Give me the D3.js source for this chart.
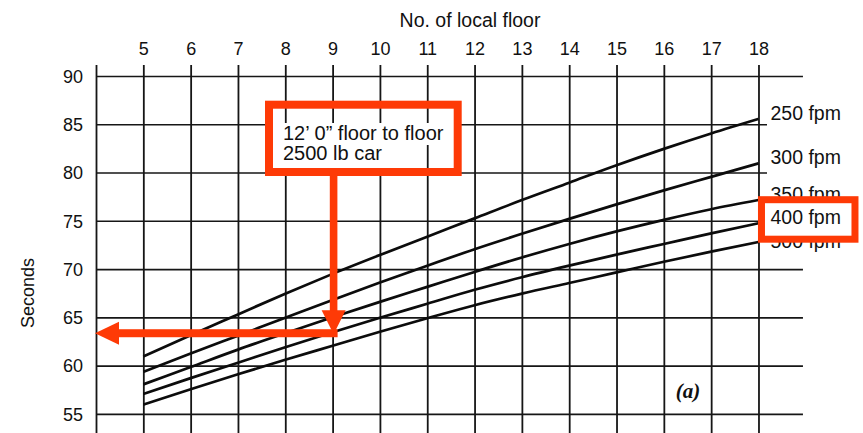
<!DOCTYPE html>
<html>
<head>
<meta charset="utf-8">
<script src="https://cdn.jsdelivr.net/npm/d3@7"></script>
<style>
  html, body { margin: 0; padding: 0; background: #fff; }
  svg { display: block; }
  text { font-family: "Liberation Sans", Arial, sans-serif; fill: #111; }
</style>
</head>
<body>
<svg id="chart" width="863" height="433"></svg>
<script>
// Round-trip time of a local elevator vs. number of local floors served
const floors = [5, 6, 7, 8, 9, 10, 11, 12, 13, 14, 15, 16, 17, 18];
const speeds = ["250 fpm", "300 fpm", "350 fpm", "400 fpm", "500 fpm"];
const s250 = [61.0, 63.2, 65.35, 67.5, 69.55, 71.5, 73.4, 75.3, 77.2, 79.0, 80.8, 82.5, 84.1, 85.6];
const s300 = [59.4, 61.3, 63.15, 65.0, 66.85, 68.65, 70.4, 72.1, 73.7, 75.25, 76.75, 78.2, 79.6, 81.0];
const s350 = [58.1, 59.9, 61.7, 63.4, 65.05, 66.65, 68.2, 69.75, 71.25, 72.65, 73.95, 75.15, 76.25, 77.2];
const s400 = [57.1, 58.75, 60.35, 61.95, 63.5, 65.0, 66.45, 67.9, 69.2, 70.4, 71.55, 72.65, 73.75, 74.8];
const s500 = [56.0, 57.6, 59.15, 60.65, 62.1, 63.55, 64.95, 66.3, 67.5, 68.6, 69.7, 70.8, 71.85, 72.85];
const secondsTicks = [55, 60, 65, 70, 75, 80, 85, 90];
const gridFloors = [4, 5, 6, 7, 8, 9, 10, 11, 12, 13, 14, 15, 16, 17, 18];
const shortGridSeconds = [80, 85];   // stop before the speed labels
const noteLines = ["12\u2019 0\u201D floor to floor", "2500 lb car"];
const highlightSpeed = "400 fpm";
const readFloor = 9;
const readSeconds = 63.4;

const seriesValues = [s250, s300, s350, s400, s500];
const series = speeds.map((name, i) => ({
  name,
  points: floors.map((f, j) => ({ f, v: seriesValues[i][j] }))
}));

const RED = "#fe3a06";
const INK = "#161616";

const svg = d3.select("#chart");
svg.append("rect").attr("width", 863).attr("height", 433).attr("fill", "#fff");

const x = d3.scaleLinear().domain([4, 19]).range([96, 805.8]);
const y = d3.scaleLinear().domain([55, 90]).range([414.3, 76.5]);

// vertical grid (left border + one line per floor)
const vGrid = svg.append("g")
  .attr("transform", "translate(0,65)")
  .call(d3.axisBottom(x).tickValues(gridFloors).tickSize(380).tickFormat(""));
vGrid.select(".domain").remove();
vGrid.selectAll("line").attr("stroke", INK).attr("stroke-width", 1.8);

// horizontal grid
svg.append("g").selectAll("line")
  .data(secondsTicks)
  .join("line")
  .attr("x1", x(4))
  .attr("x2", d => shortGridSeconds.includes(d) ? x(18.18) : x(18.94))
  .attr("y1", d => y(d))
  .attr("y2", d => y(d))
  .attr("stroke", INK)
  .attr("stroke-width", 1.7);

// floor numbers along the top
const topAxis = svg.append("g")
  .attr("transform", "translate(0,58)")
  .call(d3.axisTop(x).tickValues(floors).tickSize(0).tickPadding(3).tickFormat(d3.format("d")));
topAxis.select(".domain").remove();
topAxis.selectAll("text")
  .style("font-family", "'Liberation Sans', Arial, sans-serif")
  .style("font-size", "18px")
  .attr("fill", "#111");

// seconds labels on the left
const leftAxis = svg.append("g")
  .attr("transform", `translate(${x(4)},0)`)
  .call(d3.axisLeft(y).tickValues(secondsTicks).tickSize(0).tickPadding(13).tickFormat(d3.format("d")));
leftAxis.select(".domain").remove();
leftAxis.selectAll("text")
  .style("font-family", "'Liberation Sans', Arial, sans-serif")
  .style("font-size", "18px")
  .attr("fill", "#111");

// axis titles
svg.append("text")
  .attr("x", 470).attr("y", 27)
  .attr("text-anchor", "middle")
  .style("font-size", "19.5px")
  .text("No. of local floor");

svg.append("text")
  .attr("transform", "translate(28,293) rotate(-90)")
  .attr("text-anchor", "middle")
  .attr("dominant-baseline", "central")
  .style("font-size", "18px")
  .text("Seconds");

// curves
const line = d3.line()
  .x(d => x(d.f))
  .y(d => y(d.v))
  .curve(d3.curveMonotoneX);

svg.append("g").selectAll("path")
  .data(series)
  .join("path")
  .attr("d", d => line(d.points))
  .attr("fill", "none")
  .attr("stroke", "#0c0c0c")
  .attr("stroke-width", 2.7)
  .attr("stroke-linejoin", "round");

// speed labels at the right end of each curve; the lowest one sits a bit lower
const labelX = x(18) + 12;
const labelDy = { "500 fpm": 5 };
const labelY = d => y(d.points[d.points.length - 1].v) + 1 + (labelDy[d.name] || 0);
svg.append("g").selectAll("text")
  .data(series)
  .join("text")
  .attr("x", labelX)
  .attr("y", labelY)
  .style("font-size", "19.5px")
  .text(d => d.name);

// panel tag
svg.append("text")
  .attr("x", 688).attr("y", 398)
  .attr("text-anchor", "middle")
  .style("font-family", "'Liberation Serif', 'DejaVu Serif', serif")
  .style("font-style", "italic")
  .style("font-weight", "bold")
  .style("font-size", "21px")
  .text("(a)");

// ---- red reading annotation ----
const ann = svg.append("g");

// note box: white knock-out behind the text, red frame around it
ann.append("rect").attr("x", 273).attr("y", 123).attr("width", 181).attr("height", 22).attr("fill", "#fff");
ann.append("rect").attr("x", 273).attr("y", 145).attr("width", 148).attr("height", 23).attr("fill", "#fff");
ann.append("rect")
  .attr("x", 269).attr("y", 104.7).attr("width", 188.7).attr("height", 67.3)
  .attr("fill", "none").attr("stroke", RED).attr("stroke-width", 8);
ann.selectAll("text.note")
  .data(noteLines)
  .join("text")
  .attr("class", "note")
  .attr("x", 283)
  .attr("y", (d, i) => 140 + i * 20)
  .style("font-size", "20px")
  .text(d => d);

// arrow down to the curve at the chosen floor
const ax = x(readFloor) + 1;
const ay = y(readSeconds);
ann.append("rect")
  .attr("x", ax - 3.8).attr("y", 172)
  .attr("width", 7.6).attr("height", ay - 22 - 172)
  .attr("fill", RED);
ann.append("path")
  .attr("d", `M${ax - 12},${ay - 23}L${ax + 12},${ay - 23}L${ax},${ay + 1}Z`)
  .attr("fill", RED);

// arrow across to the seconds axis
const hx = x(4);
ann.append("rect")
  .attr("x", hx + 22).attr("y", ay - 4)
  .attr("width", ax + 4 - (hx + 22)).attr("height", 8)
  .attr("fill", RED);
ann.append("path")
  .attr("d", `M${hx - 1},${ay}L${hx + 23},${ay - 11.5}L${hx + 23},${ay + 11.5}Z`)
  .attr("fill", RED);

// highlighted speed
const hi = series.find(d => d.name === highlightSpeed);
const hiY = labelY(hi);
ann.append("rect")
  .attr("x", x(18) + 3).attr("y", hiY - 24.5)
  .attr("width", 93.5).attr("height", 39.5)
  .attr("fill", "#fff").attr("stroke", RED).attr("stroke-width", 7);
ann.append("text")
  .attr("x", labelX)
  .attr("y", hiY)
  .style("font-size", "19.5px")
  .text(hi.name);
</script>
</body>
</html>
